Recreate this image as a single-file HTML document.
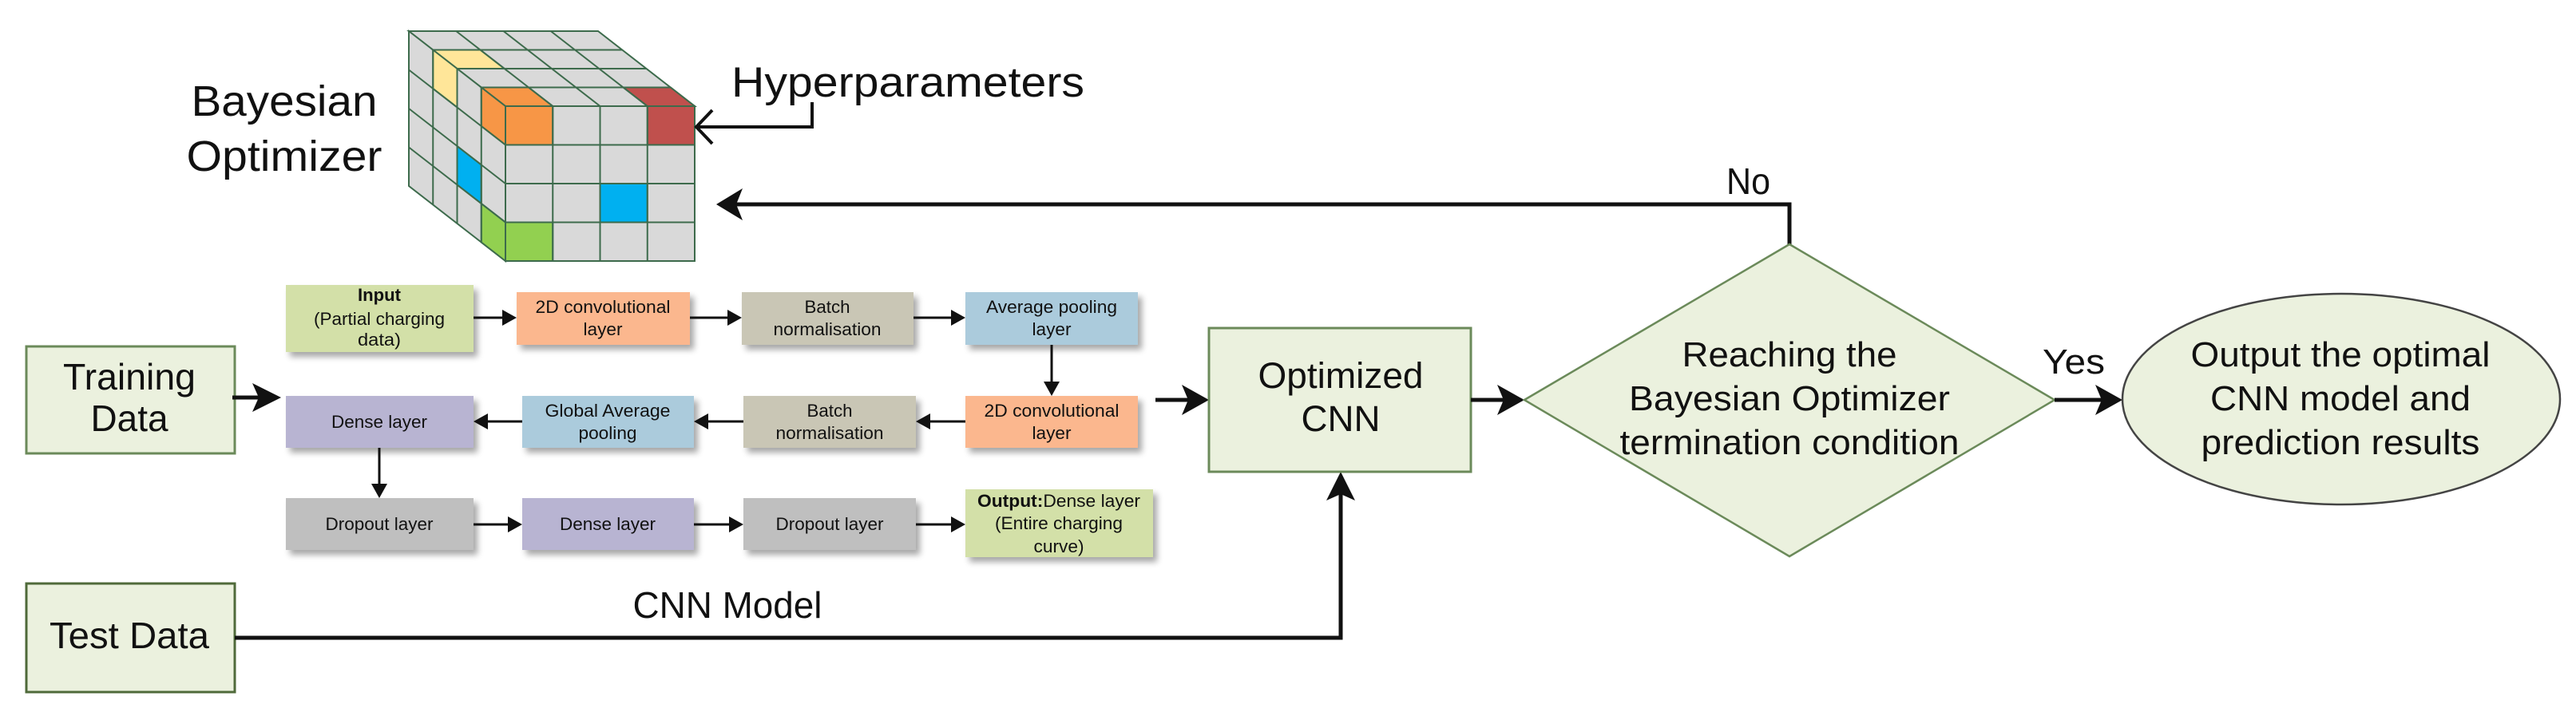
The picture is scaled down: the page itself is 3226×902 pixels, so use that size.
<!DOCTYPE html>
<html><head><meta charset="utf-8"><style>
html,body{margin:0;padding:0;background:#fff;}
svg{display:block;}
text{font-family:"Liberation Sans",Arial,sans-serif;fill:#111;}
</style></head><body>
<svg width="3226" height="902" viewBox="0 0 3226 902" xmlns="http://www.w3.org/2000/svg">
<defs>
<filter id="sh" x="-10%" y="-10%" width="130%" height="140%"><feGaussianBlur in="SourceAlpha" stdDeviation="4"/><feOffset dx="5" dy="6"/><feComponentTransfer><feFuncA type="linear" slope="0.35"/></feComponentTransfer><feMerge><feMergeNode/><feMergeNode in="SourceGraphic"/></feMerge></filter>
</defs>

<!-- Cube -->
<g stroke="#3d6b4c" stroke-width="2" fill="#d9d9d9">
<polygon points="633,133 870,133 749,39 512,39"/>
<polygon points="633,133 633,327 512,233 512,39"/>
<rect x="633" y="133" width="237" height="194"/>
<polygon fill="#f79646" points="633,133 692.25,133 662,109.5 602.75,109.5"/>
<polygon fill="#c0504d" points="810.75,133 870,133 839.75,109.5 780.5,109.5"/>
<polygon fill="#ffe699" points="572.5,86 631.75,86 601.5,62.5 542.25,62.5"/>
<polygon fill="#f79646" points="633,133 633,181.5 602.75,158 602.75,109.5"/>
<polygon fill="#00b0f0" points="602.75,206.5 602.75,255 572.5,231.5 572.5,183"/>
<polygon fill="#92d050" points="633,278.5 633,327 602.75,303.5 602.75,255"/>
<polygon fill="#ffe699" points="572.5,86 572.5,134.5 542.25,111 542.25,62.5"/>
<rect fill="#f79646" x="633" y="133" width="59.25" height="48.5"/>
<rect fill="#c0504d" x="810.75" y="133" width="59.25" height="48.5"/>
<rect fill="#00b0f0" x="751.5" y="230" width="59.25" height="48.5"/>
<rect fill="#92d050" x="633" y="278.5" width="59.25" height="48.5"/>
<g fill="none">
<line x1="692.25" y1="133" x2="571.25" y2="39"/><line x1="751.5" y1="133" x2="630.5" y2="39"/><line x1="810.75" y1="133" x2="689.75" y2="39"/>
<line x1="602.75" y1="109.5" x2="839.75" y2="109.5"/><line x1="572.5" y1="86" x2="809.5" y2="86"/><line x1="542.25" y1="62.5" x2="779.25" y2="62.5"/>
<line x1="602.75" y1="109.5" x2="602.75" y2="303.5"/><line x1="572.5" y1="86" x2="572.5" y2="280"/><line x1="542.25" y1="62.5" x2="542.25" y2="256.5"/>
<line x1="633" y1="181.5" x2="512" y2="87.5"/><line x1="633" y1="230" x2="512" y2="136"/><line x1="633" y1="278.5" x2="512" y2="184.5"/>
<line x1="692.25" y1="133" x2="692.25" y2="327"/><line x1="751.5" y1="133" x2="751.5" y2="327"/><line x1="810.75" y1="133" x2="810.75" y2="327"/>
<line x1="633" y1="181.5" x2="870" y2="181.5"/><line x1="633" y1="230" x2="870" y2="230"/><line x1="633" y1="278.5" x2="870" y2="278.5"/>
</g>
</g>

<text x="356" y="145" font-size="54" text-anchor="middle" textLength="233" lengthAdjust="spacingAndGlyphs">Bayesian</text>
<text x="356" y="214" font-size="54" text-anchor="middle" textLength="245" lengthAdjust="spacingAndGlyphs">Optimizer</text>
<text x="916" y="121" font-size="53" textLength="442" lengthAdjust="spacingAndGlyphs">Hyperparameters</text>
<polyline points="1017,128 1017,159 872,159" fill="none" stroke="#111" stroke-width="4"/>
<polyline points="892,138 872,159 892,180" fill="none" stroke="#111" stroke-width="4"/>

<!-- No feedback -->
<polyline points="2241,306 2241,256 920,256" fill="none" stroke="#111" stroke-width="5"/>
<polygon points="897,256 930,236 922,256 930,276" fill="#111"/>
<text x="2162" y="243" font-size="46" textLength="55" lengthAdjust="spacingAndGlyphs">No</text>

<!-- Training / Test -->
<rect x="33" y="434" width="261" height="134" fill="#ebf1de" stroke="#6b8a5a" stroke-width="3"/>
<text x="162" y="488" font-size="46" text-anchor="middle" textLength="166" lengthAdjust="spacingAndGlyphs">Training</text>
<text x="162" y="540" font-size="46" text-anchor="middle" textLength="97" lengthAdjust="spacingAndGlyphs">Data</text>
<rect x="33" y="731" width="261" height="136" fill="#ebf1de" stroke="#4f6a3a" stroke-width="3"/>
<text x="162" y="812" font-size="46" text-anchor="middle" textLength="200" lengthAdjust="spacingAndGlyphs">Test Data</text>
<line x1="291" y1="498" x2="325" y2="498" stroke="#111" stroke-width="5"/>
<polygon points="352,498 316,480 324,498 316,516" fill="#111"/>

<!-- CNN blocks -->
<g filter="url(#sh)">
<rect x="358" y="357" width="235" height="84" fill="#d3e0a8"/>
<rect x="647" y="366" width="217" height="66" fill="#fbb78e"/>
<rect x="929" y="366" width="215" height="66" fill="#c9c6b5"/>
<rect x="1209" y="366" width="216" height="66" fill="#abcbdc"/>
<rect x="358" y="496" width="235" height="65" fill="#b8b4d2"/>
<rect x="654" y="496" width="215" height="65" fill="#abcbdc"/>
<rect x="931" y="496" width="216" height="65" fill="#c9c6b5"/>
<rect x="1209" y="496" width="216" height="65" fill="#fbb78e"/>
<rect x="358" y="624" width="235" height="65" fill="#bfbfbf"/>
<rect x="654" y="624" width="215" height="65" fill="#b8b4d2"/>
<rect x="931" y="624" width="216" height="65" fill="#bfbfbf"/>
<rect x="1209" y="613" width="235" height="85" fill="#d3e0a8"/>
</g>
<g font-size="22" text-anchor="middle">
<text x="475" y="377" font-weight="bold" textLength="54" lengthAdjust="spacingAndGlyphs">Input</text>
<text x="475" y="407" textLength="164" lengthAdjust="spacingAndGlyphs">(Partial charging</text>
<text x="475" y="433" textLength="54" lengthAdjust="spacingAndGlyphs">data)</text>
<text x="755" y="392" textLength="169" lengthAdjust="spacingAndGlyphs">2D convolutional</text>
<text x="755" y="420" textLength="49" lengthAdjust="spacingAndGlyphs">layer</text>
<text x="1036" y="392" textLength="57" lengthAdjust="spacingAndGlyphs">Batch</text>
<text x="1036" y="420" textLength="135" lengthAdjust="spacingAndGlyphs">normalisation</text>
<text x="1317" y="392" textLength="164" lengthAdjust="spacingAndGlyphs">Average pooling</text>
<text x="1317" y="420" textLength="49" lengthAdjust="spacingAndGlyphs">layer</text>
<text x="475" y="536" textLength="120" lengthAdjust="spacingAndGlyphs">Dense layer</text>
<text x="761" y="522" textLength="157" lengthAdjust="spacingAndGlyphs">Global Average</text>
<text x="761" y="550" textLength="73" lengthAdjust="spacingAndGlyphs">pooling</text>
<text x="1039" y="522" textLength="57" lengthAdjust="spacingAndGlyphs">Batch</text>
<text x="1039" y="550" textLength="135" lengthAdjust="spacingAndGlyphs">normalisation</text>
<text x="1317" y="522" textLength="169" lengthAdjust="spacingAndGlyphs">2D convolutional</text>
<text x="1317" y="550" textLength="49" lengthAdjust="spacingAndGlyphs">layer</text>
<text x="475" y="664" textLength="135" lengthAdjust="spacingAndGlyphs">Dropout layer</text>
<text x="761" y="664" textLength="120" lengthAdjust="spacingAndGlyphs">Dense layer</text>
<text x="1039" y="664" textLength="135" lengthAdjust="spacingAndGlyphs">Dropout layer</text>
<text x="1326" y="635" textLength="204" lengthAdjust="spacingAndGlyphs"><tspan font-weight="bold">Output:</tspan>Dense layer</text>
<text x="1326" y="663" textLength="160" lengthAdjust="spacingAndGlyphs">(Entire charging</text>
<text x="1326" y="692" textLength="63" lengthAdjust="spacingAndGlyphs">curve)</text>
</g>
<g stroke="#111" stroke-width="3">
<line x1="593" y1="398" x2="632" y2="398"/><line x1="864" y1="398" x2="914" y2="398"/><line x1="1144" y1="398" x2="1194" y2="398"/>
<line x1="1317" y1="432" x2="1317" y2="482"/>
<line x1="1209" y1="528" x2="1162" y2="528"/><line x1="931" y1="528" x2="884" y2="528"/><line x1="654" y1="528" x2="608" y2="528"/>
<line x1="475" y1="561" x2="475" y2="610"/>
<line x1="593" y1="657" x2="639" y2="657"/><line x1="869" y1="657" x2="916" y2="657"/><line x1="1147" y1="657" x2="1194" y2="657"/>
</g>
<g fill="#111">
<polygon points="647,398 629,388 629,408"/><polygon points="929,398 911,388 911,408"/><polygon points="1209,398 1191,388 1191,408"/>
<polygon points="1317,496 1307,478 1327,478"/>
<polygon points="1147,528 1165,518 1165,538"/><polygon points="869,528 887,518 887,538"/><polygon points="593,528 611,518 611,538"/>
<polygon points="475,624 465,606 485,606"/>
<polygon points="654,657 636,647 636,667"/><polygon points="931,657 913,647 913,667"/><polygon points="1209,657 1191,647 1191,667"/>
</g>

<!-- CNN Model label and test line -->
<text x="911" y="774" font-size="46" text-anchor="middle" textLength="237" lengthAdjust="spacingAndGlyphs">CNN Model</text>
<polyline points="294,799 1679,799 1679,615" fill="none" stroke="#111" stroke-width="5"/>
<polygon points="1679,591 1661,627 1679,619 1697,627" fill="#111"/>

<!-- Optimized CNN -->
<line x1="1447" y1="501" x2="1490" y2="501" stroke="#111" stroke-width="5"/>
<polygon points="1514,501 1480,482 1488,501 1480,520" fill="#111"/>
<rect x="1514" y="411" width="328" height="180" fill="#ebf1de" stroke="#6b8a5a" stroke-width="3"/>
<text x="1679" y="486" font-size="45" text-anchor="middle" textLength="207" lengthAdjust="spacingAndGlyphs">Optimized</text>
<text x="1679" y="540" font-size="45" text-anchor="middle" textLength="99" lengthAdjust="spacingAndGlyphs">CNN</text>
<line x1="1842" y1="501" x2="1885" y2="501" stroke="#111" stroke-width="5"/>
<polygon points="1909,501 1875,482 1883,501 1875,520" fill="#111"/>

<!-- Diamond -->
<polygon points="1909,501 2241,306 2573,501 2241,697" fill="#ebf1de" stroke="#6b8a5a" stroke-width="2.5"/>
<text x="2241" y="459" font-size="44" text-anchor="middle" textLength="269" lengthAdjust="spacingAndGlyphs">Reaching the</text>
<text x="2241" y="514" font-size="44" text-anchor="middle" textLength="402" lengthAdjust="spacingAndGlyphs">Bayesian Optimizer</text>
<text x="2241" y="569" font-size="44" text-anchor="middle" textLength="425" lengthAdjust="spacingAndGlyphs">termination condition</text>

<!-- Yes -->
<text x="2597" y="468" font-size="44" text-anchor="middle" textLength="78" lengthAdjust="spacingAndGlyphs">Yes</text>
<line x1="2573" y1="501" x2="2634" y2="501" stroke="#111" stroke-width="5"/>
<polygon points="2658,501 2624,482 2632,501 2624,520" fill="#111"/>

<!-- Ellipse -->
<ellipse cx="2932" cy="500" rx="274" ry="132" fill="#ebf1de" stroke="#444" stroke-width="2.5"/>
<text x="2931" y="459" font-size="44" text-anchor="middle" textLength="375" lengthAdjust="spacingAndGlyphs">Output the optimal</text>
<text x="2931" y="514" font-size="44" text-anchor="middle" textLength="326" lengthAdjust="spacingAndGlyphs">CNN model and</text>
<text x="2931" y="569" font-size="44" text-anchor="middle" textLength="349" lengthAdjust="spacingAndGlyphs">prediction results</text>
</svg>
</body></html>
